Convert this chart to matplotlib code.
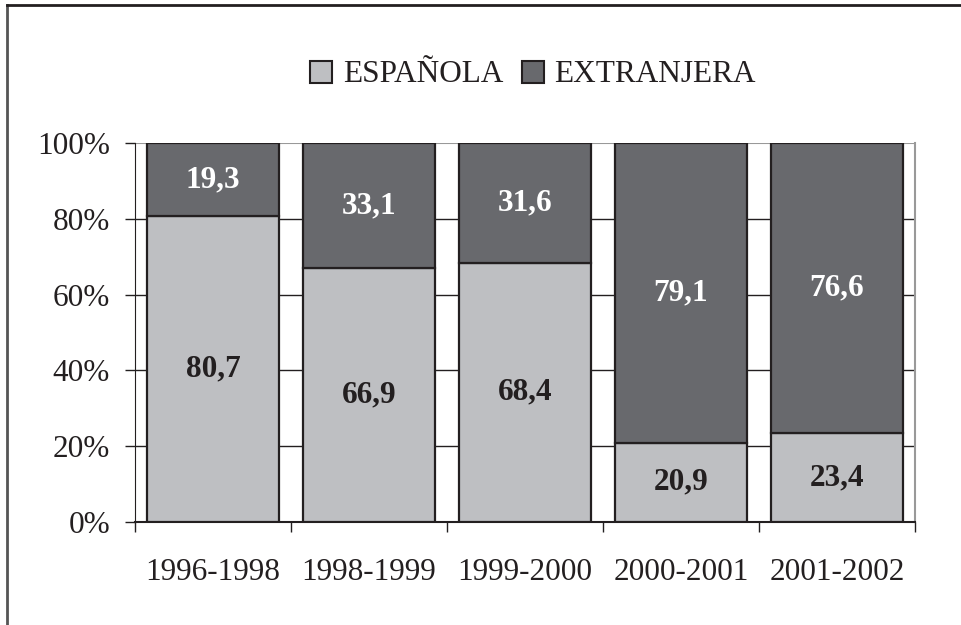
import numpy as np
import matplotlib.pyplot as plt
from matplotlib.lines import Line2D
from matplotlib.patches import Patch

# --- DATA ---
periods = ['1996-1998', '1998-1999', '1999-2000', '2000-2001', '2001-2002']
espanola = [80.7, 66.9, 68.4, 20.9, 23.4]
extranjera = [19.3, 33.1, 31.6, 79.1, 76.6]
series_names = ['ESPAÑOLA', 'EXTRANJERA']

LIGHT = '#bebfc2'
DARK = '#68696d'
EDGE = '#231f20'
FS = 22.5

plt.rcParams['font.family'] = ['Liberation Serif', 'DejaVu Serif']

fig = plt.figure(figsize=(9.62, 6.25), dpi=100)
ax = fig.add_axes([135 / 962, 1 - 522 / 625, 780 / 962, 379 / 625])

x = np.arange(len(periods))
w = 0.84
ax.bar(x, espanola, width=w, color=LIGHT, edgecolor=EDGE, linewidth=1.6, zorder=3)
ax.bar(x, extranjera, width=w, bottom=espanola, color=DARK, edgecolor=EDGE,
       linewidth=1.6, zorder=3)

# values inside segments
for i in range(len(periods)):
    ax.text(x[i], espanola[i] / 2, f"{espanola[i]:.1f}".replace('.', ','),
            ha='center', va='center', fontsize=FS, fontweight='bold', color=EDGE, zorder=4)
    ax.text(x[i], espanola[i] + extranjera[i] / 2, f"{extranjera[i]:.1f}".replace('.', ','),
            ha='center', va='center', fontsize=FS, fontweight='bold', color='white', zorder=4)

ax.set_xlim(-0.5, len(periods) - 0.5)
ax.set_ylim(0, 100)

# grid lines
for g in [20, 40, 60, 80]:
    ax.axhline(g, color=EDGE, linewidth=1.0, zorder=1)
ax.axhline(100, color='#999999', linewidth=1.5, zorder=1)

ax.set_yticks([0, 20, 40, 60, 80, 100])
ax.set_yticklabels([f"{v}%" for v in [0, 20, 40, 60, 80, 100]])
ax.tick_params(axis='y', direction='out', length=7, width=1.0, pad=11, labelsize=FS,
               color=EDGE, labelcolor=EDGE)

ax.set_xticks(x)
ax.set_xticklabels(periods)
ax.tick_params(axis='x', which='major', length=0, pad=26, labelsize=FS, labelcolor=EDGE)
ax.set_xticks(np.arange(-0.5, len(periods)), minor=True)
ax.tick_params(axis='x', which='minor', direction='out', length=7, width=1.0, color=EDGE)

ax.spines['top'].set_visible(False)
ax.spines['right'].set_color('#999999')
ax.spines['right'].set_linewidth(1.5)
ax.spines['left'].set_color(EDGE)
ax.spines['bottom'].set_color(EDGE)
ax.spines['bottom'].set_linewidth(1.5)

handles = [Patch(facecolor=LIGHT, edgecolor=EDGE, linewidth=1.5),
           Patch(facecolor=DARK, edgecolor=EDGE, linewidth=1.5)]
fig.legend(handles, series_names, loc='center', bbox_to_anchor=(533 / 962, 1 - 75 / 625),
           ncol=2, frameon=False, fontsize=FS, handlelength=0.7, handleheight=0.7,
           handletextpad=0.35, columnspacing=0.6, labelcolor=EDGE)

# figure border (left and top only)
fig.add_artist(Line2D([7 / 962, 7 / 962], [0, 1 - 5 / 625], transform=fig.transFigure,
                      color='#555555', linewidth=2))
fig.add_artist(Line2D([7 / 962, 1], [1 - 5 / 625, 1 - 5 / 625], transform=fig.transFigure,
                      color=EDGE, linewidth=2))

fig.savefig('out.png', dpi=100)
